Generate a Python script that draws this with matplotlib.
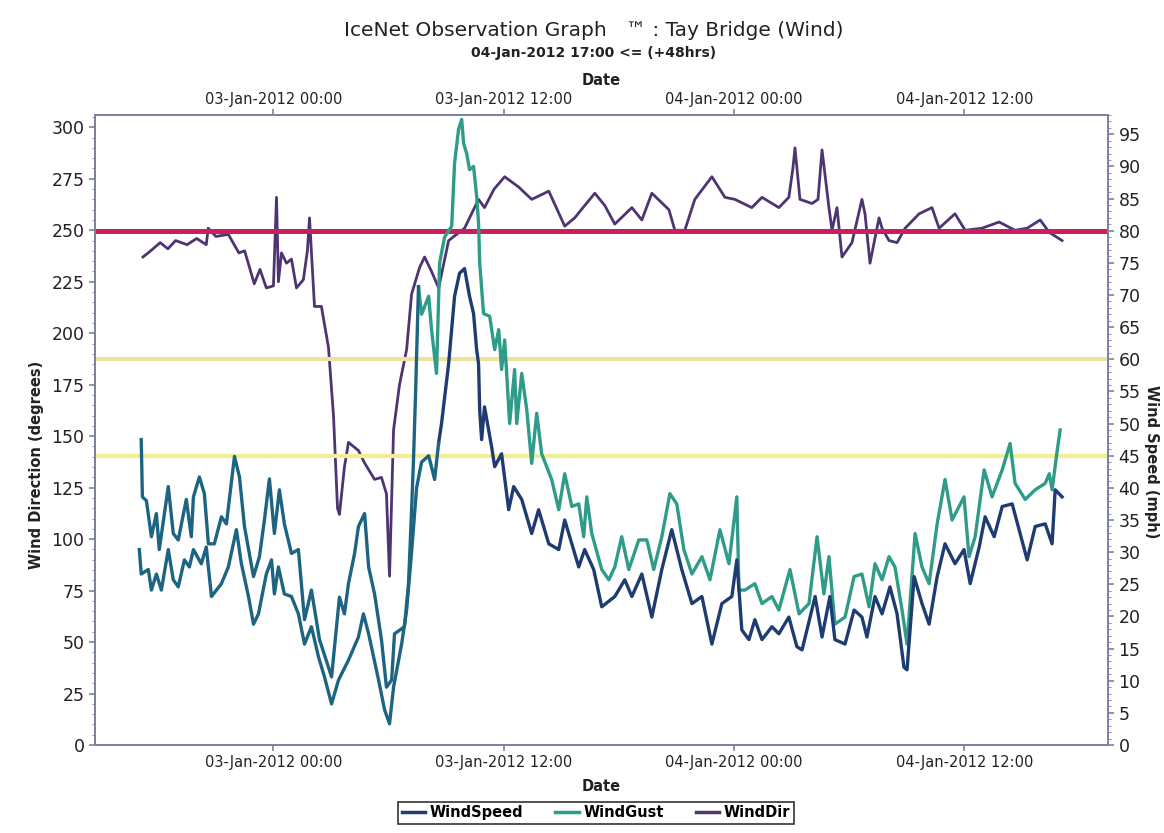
import matplotlib
matplotlib.use("Agg")
import matplotlib.pyplot as plt
import matplotlib.dates as mdates
from matplotlib.ticker import MultipleLocator
import numpy as np

# hours relative to 03-Jan-2012 00:00
dir_hours = [-6.8, -6.4, -5.9, -5.5, -5.1, -4.5, -4.0, -3.5, -3.4, -3.0, -2.35, -1.8, -1.5, -1.0,
             -0.7, -0.37, 0.0, 0.16, 0.26, 0.42, 0.68, 0.94, 1.2, 1.56, 1.77, 1.88, 2.14, 2.5, 2.87,
             3.13, 3.34, 3.44, 3.7, 3.91, 4.43, 4.75, 5.27, 5.63, 5.89, 6.05, 6.26, 6.57, 6.94, 7.2,
             7.62, 7.88, 8.24, 8.61, 9.13, 9.96, 10.69, 11.0, 11.5, 12.05, 12.78, 13.46, 14.35,
             15.18, 15.7, 16.22, 16.75, 17.27, 17.79, 18.68, 19.2, 19.72, 20.61, 20.92, 21.44,
             21.96, 22.85, 23.53, 24.05, 24.93, 25.46, 26.34, 26.86, 27.07, 27.18, 27.44, 28.07,
             28.38, 28.59, 28.95, 29.11, 29.37, 29.63, 30.15, 30.67, 30.83, 31.09, 31.56, 31.72,
             32.08, 32.5, 32.92, 33.65, 34.32, 34.69, 35.52, 36.05, 36.93, 37.82, 38.65, 39.28,
             39.96, 40.43, 41.1]
wind_dir = [237, 240, 244, 241, 245, 243, 246, 243, 251, 247, 248, 239, 240, 224,
            231, 222, 223, 266, 225, 239, 234, 236, 222, 226, 240, 256, 213, 213, 193,
            160, 115, 112, 135, 147, 143, 137, 129, 130, 122, 82, 153, 175, 192, 219,
            232, 237, 230, 222, 245, 251, 265, 261, 270, 276, 271, 265, 269,
            252, 256, 262, 268, 262, 253, 261, 255, 268, 260, 250, 250,
            265, 276, 266, 265, 261, 266, 261, 266, 280, 290, 265, 263,
            265, 289, 261, 250, 261, 237, 244, 265, 258, 234, 256, 251,
            245, 244, 251, 258, 261, 251, 258, 250, 251, 254, 250, 251,
            255, 249, 245]

gust_hours = [-6.89, -6.83, -6.62, -6.36, -6.1, -5.95, -5.48, -5.22, -4.96, -4.54, -4.28, -4.17,
              -3.86, -3.6, -3.39, -3.08, -2.71, -2.45, -2.03, -1.77, -1.51, -1.04, -0.73, -0.47,
              -0.21, 0.05, 0.31, 0.57, 0.94, 1.3, 1.62, 1.98, 2.4, 3.03, 3.44, 3.7, 3.91, 4.23,
              4.43, 4.75, 4.96, 5.27, 5.63, 5.89, 6.16, 6.31, 6.83, 7.04, 7.2, 7.3, 7.41, 7.56,
              7.72, 8.09, 8.24, 8.4, 8.5, 8.66, 8.92, 9.29, 9.44, 9.65, 9.81, 9.91, 10.07, 10.22,
              10.43, 10.59, 10.69, 10.75, 10.95, 11.27, 11.53, 11.74, 11.89, 12.05, 12.31, 12.57,
              12.68, 12.94, 13.2, 13.46, 13.72, 13.98, 14.5, 14.87, 15.18, 15.55, 15.91, 16.17,
              16.33, 16.59, 17.11, 17.48, 17.79, 18.15, 18.52, 19.04, 19.46, 19.82, 20.24, 20.66,
              21.02, 21.39, 21.81, 22.33, 22.75, 23.27, 23.74, 24.15, 24.26, 24.57, 25.09, 25.46,
              25.98, 26.34, 26.92, 27.39, 27.91, 28.33, 28.69, 28.95, 29.26, 29.79, 30.26, 30.67,
              31.04, 31.35, 31.72, 32.08, 32.39, 32.76, 33.02, 33.44, 33.8, 34.17, 34.59, 35.0,
              35.37, 35.99, 36.25, 36.57, 37.04, 37.45, 37.98, 38.39, 38.65, 39.18, 39.7, 40.22,
              40.43, 40.58, 40.85, 41.0]
wind_gust = [47.5, 38.6, 38.0, 32.4, 36.0, 30.4, 40.2, 32.9, 31.9, 38.2, 32.4, 38.6,
             41.7, 39.1, 31.3, 31.3, 35.5, 34.4, 44.9, 41.7, 34.0, 26.2, 29.3, 35.0,
             41.4, 32.9, 39.7, 34.4, 29.8, 30.4, 19.5, 24.1, 16.4, 10.6, 23.0, 20.4, 25.1, 29.8,
             34.0, 36.0, 27.7, 23.5, 16.4, 9.0, 10.1, 17.3, 18.4, 25.1, 36.6, 44.4, 55.0, 71.3,
             67.0, 69.8, 64.6, 60.4, 57.8, 75.0, 79.0, 80.7, 90.5, 95.8, 97.3, 93.6, 92.0, 89.5,
             90.0, 85.4, 81.2, 75.0, 67.1, 66.7, 61.5, 64.6, 58.4, 63.0, 50.0, 58.4,
             50.0, 57.8, 52.2, 43.8, 51.6, 45.3, 41.3, 36.6, 42.2, 37.1, 37.5, 32.4,
             38.6, 32.9, 27.3, 25.7, 27.7, 32.4, 27.3, 31.9, 31.9, 27.3, 32.4, 39.1,
             37.5, 30.4, 26.6, 29.3, 25.7, 33.5, 28.2, 38.6, 24.1, 24.1, 25.1, 22.0,
             23.1, 21.0, 27.3, 20.4, 22.0, 32.4, 23.5, 29.3, 18.8, 19.9, 26.2, 26.6,
             21.5, 28.2, 25.7, 29.3, 27.7, 21.0, 15.7, 32.9, 27.7, 25.1, 34.4, 41.3,
             35.0, 38.6, 29.3, 32.4, 42.8, 38.6, 42.8, 46.9, 40.7, 38.2, 39.7, 40.7,
             42.2, 39.7, 45.9, 49.0]

speed_hours = [-6.99, -6.89, -6.52, -6.36, -6.1, -5.84, -5.48, -5.22, -4.96, -4.64, -4.38, -4.17,
               -3.76, -3.5, -3.23, -2.71, -2.35, -1.93, -1.67, -1.3, -1.04, -0.78, -0.37, -0.1,
               0.05, 0.26, 0.57, 0.94, 1.3, 1.62, 1.98, 2.35, 2.66, 3.03, 3.39, 3.91, 4.43, 4.69,
               4.96, 5.48, 5.79, 6.05, 6.26, 6.68, 6.94, 7.2, 7.46, 7.72, 8.09, 8.4, 8.61, 8.76,
               9.13, 9.44, 9.7, 9.96, 10.22, 10.43, 10.59, 10.69, 10.75, 10.85, 11.0, 11.37, 11.53,
               11.89, 12.26, 12.52, 12.94, 13.46, 13.82, 14.35, 14.87, 15.18, 15.91, 16.22, 16.69,
               17.11, 17.79, 18.31, 18.68, 19.2, 19.72, 20.24, 20.76, 21.28, 21.81, 22.33, 22.85,
               23.37, 23.89, 24.15, 24.41, 24.78, 25.09, 25.46, 25.98, 26.34, 26.86, 27.28, 27.55,
               28.23, 28.59, 29.0, 29.26, 29.79, 30.26, 30.67, 30.93, 31.35, 31.72, 32.13, 32.5,
               32.86, 33.02, 33.39, 33.8, 34.17, 34.59, 35.0, 35.52, 35.99, 36.31, 36.78, 37.09,
               37.56, 37.98, 38.5, 38.86, 39.28, 39.7, 40.22, 40.58, 40.74, 41.1]
wind_speed = [30.4, 26.6, 27.3, 24.1, 26.6, 24.1, 30.4, 25.7, 24.6, 28.8, 27.7, 30.4,
              28.2, 30.8, 23.1, 25.1, 27.7, 33.5, 28.2, 23.1, 18.8, 20.4, 26.6, 28.8,
              23.5, 27.7, 23.5, 23.1, 20.4, 15.7, 18.4, 13.7, 10.6, 6.4, 10.1, 13.2, 16.8, 20.4,
              17.3, 10.1, 5.5, 3.3, 9.0, 15.7, 21.0, 30.0, 40.0, 44.0, 45.0, 41.3, 47.0, 50.0,
              59.3, 69.8, 73.4, 74.1, 69.8, 67.1, 61.5, 59.3, 52.0, 47.5, 52.6, 46.4, 43.3,
              45.3, 36.6, 40.2, 38.2, 32.9, 36.6, 31.3, 30.4, 35.0, 27.7, 30.4, 27.3,
              21.5, 23.1, 25.7, 23.1, 26.6, 19.9, 27.3, 33.5, 27.3, 22.0, 23.1, 15.7,
              22.0, 23.1, 28.8, 17.9, 16.4, 19.5, 16.4, 18.4, 17.3, 19.9, 15.3, 14.8,
              23.1, 16.8, 23.1, 16.4, 15.7, 21.0, 19.9, 16.8, 23.1, 20.4, 24.6, 20.4,
              12.1, 11.7, 26.2, 22.0, 18.8, 26.2, 31.3, 28.2, 30.4, 25.1, 30.8, 35.5,
              32.4, 37.1, 37.5, 33.5, 28.8, 34.0, 34.4, 31.3, 39.7, 38.6]

date_ticks_fmt = "%d-%b-%Y %H:%M"
red_limit = 80      # mph
amber_limits = [60, 45]  # mph

t0 = np.datetime64("2012-01-03T00:00")


def to_time(hours):
    secs = np.round(np.asarray(hours) * 3600).astype(int)
    return t0 + secs.astype("timedelta64[s]")


c_early = "#1d6482"
c_speed = "#1f3c72"
c_gust = "#2e9c88"
c_dir = "#4e3472"
txt = "#222222"
spine_c = "#7c82a2"

plt.rcParams["font.family"] = ["DejaVu Sans"]

fig = plt.figure(figsize=(11.64, 8.33), dpi=100)
ax = fig.add_axes([0.0816, 0.1056, 0.8704, 0.7564])
ax2 = ax.twinx()

# wind direction (left axis)
ax.plot(to_time(dir_hours), wind_dir, color=c_dir, lw=2.0, zorder=2)

# thresholds and speeds (right axis)
ax2.axhline(red_limit, color="#c91f5c", lw=3.6, zorder=1)
ax2.axhline(amber_limits[0], color="#efe1a6", lw=3.0, zorder=1)
ax2.axhline(amber_limits[1], color="#f2ee96", lw=3.0, zorder=1)

g_h = np.array(gust_hours)
g_v = np.array(wind_gust)
s_h = np.array(speed_hours)
s_v = np.array(wind_speed)
g_split, s_split = 7.45, 8.6
ax2.plot(to_time(g_h[g_h >= g_split]), g_v[g_h >= g_split], color=c_gust, lw=2.4, zorder=3)
ax2.plot(to_time(g_h[g_h <= 7.56]), g_v[g_h <= 7.56], color=c_early, lw=2.4, zorder=3)
ax2.plot(to_time(s_h[s_h >= s_split]), s_v[s_h >= s_split], color=c_speed, lw=2.4, zorder=4)
ax2.plot(to_time(s_h[s_h <= 8.61]), s_v[s_h <= 8.61], color=c_early, lw=2.4, zorder=4)

ax.set_xlim(to_time(-9.3)[()], to_time(43.5)[()])
ax.set_ylim(0, 306)
ax2.set_ylim(0, 98)

ax.yaxis.set_major_locator(MultipleLocator(25))
ax.yaxis.set_minor_locator(MultipleLocator(5))
ax2.yaxis.set_major_locator(MultipleLocator(5))
ax2.yaxis.set_minor_locator(MultipleLocator(1))

loc = mdates.HourLocator(byhour=[0, 12])
fmt = mdates.DateFormatter(date_ticks_fmt)
ax.xaxis.set_major_locator(loc)
ax.xaxis.set_major_formatter(fmt)

sec = ax.secondary_xaxis("top")
sec.xaxis.set_major_locator(mdates.HourLocator(byhour=[0, 12]))
sec.xaxis.set_major_formatter(mdates.DateFormatter(date_ticks_fmt))

for a in (ax, ax2, sec):
    for s in a.spines.values():
        s.set_color(spine_c)
        s.set_linewidth(1.4)

ax.tick_params(axis="y", labelsize=12.5, colors=spine_c, labelcolor=txt, length=4, width=1.2)
ax.tick_params(axis="y", which="minor", length=2, colors=spine_c)
ax2.tick_params(axis="y", labelsize=12.5, colors=spine_c, labelcolor=txt, length=4, width=1.2)
ax2.tick_params(axis="y", which="minor", length=2, colors=spine_c)
ax.tick_params(axis="x", labelsize=10.5, colors=spine_c, labelcolor=txt, length=4, width=1.2)
sec.tick_params(axis="x", labelsize=10.5, colors=spine_c, labelcolor=txt, length=4, width=1.2, pad=2)

ax.set_xlabel("Date", fontsize=10.5, fontweight="bold", color=txt, labelpad=6)
sec.set_xlabel("Date", fontsize=10.5, fontweight="bold", color=txt, labelpad=5)
ax.set_ylabel("Wind Direction (degrees)", fontsize=10.5, fontweight="bold", color=txt,
              va="center")
ax.yaxis.set_label_coords(-0.058, 0.445)
ax2.set_ylabel("Wind Speed (mph)", fontsize=10.5, fontweight="bold", color=txt,
               rotation=270, va="center")
ax2.yaxis.set_label_coords(1.043, 0.45)

fig.text(0.51, 0.963, "IceNet Observation Graph   \u2122 : Tay Bridge (Wind)",
         ha="center", va="center", fontsize=14.5, color=txt)
fig.text(0.51, 0.936, "04-Jan-2012 17:00 <= (+48hrs)", ha="center", va="center",
         fontsize=10, fontweight="bold", color=txt)

handles = [plt.Line2D([], [], color=c_speed, lw=2.5),
           plt.Line2D([], [], color=c_gust, lw=2.5),
           plt.Line2D([], [], color=c_dir, lw=2.5)]
leg = fig.legend(handles, ["WindSpeed", "WindGust", "WindDir"], loc="lower center",
                 bbox_to_anchor=(0.512, 0.002), ncol=3, frameon=True, fancybox=False,
                 edgecolor="black", handlelength=1.6, handletextpad=0.3, columnspacing=2.2,
                 borderpad=0.25, prop={"size": 10.5, "weight": "bold"})
leg.get_frame().set_linewidth(1.2)

fig.savefig("out.png", dpi=100)
